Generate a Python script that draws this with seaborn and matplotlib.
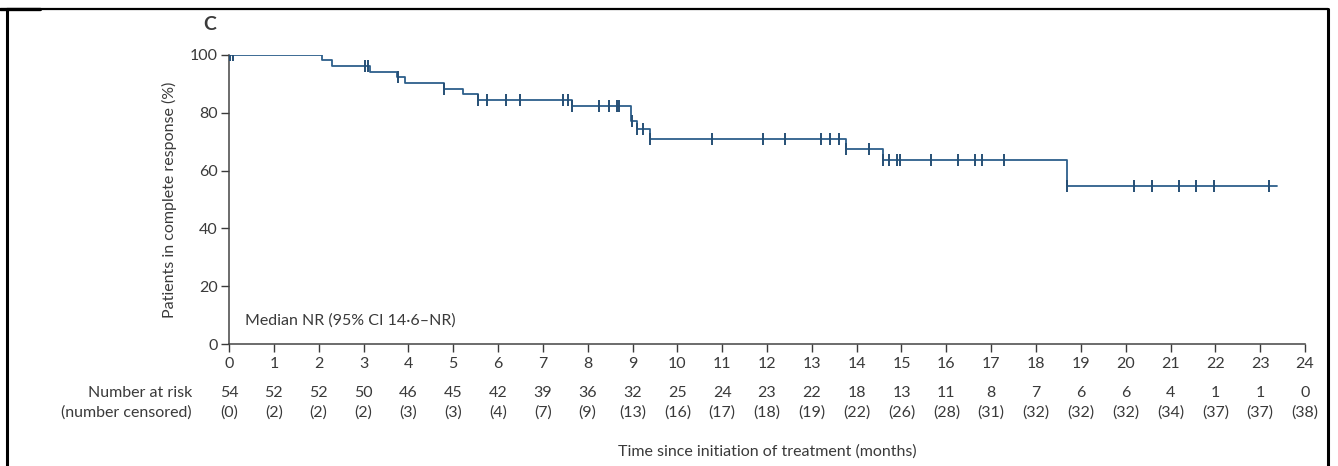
# Kaplan-Meier plot of complete response, panel C

import matplotlib.pyplot as plt
import matplotlib.lines as mlines
import numpy as np
import pandas as pd
import seaborn as sns

# step curve (time in months, % in complete response)
step_times = [0, 2.07, 2.29, 3.15, 3.74, 3.93, 4.80, 5.23, 5.56, 7.64, 8.96, 9.09, 9.38, 13.76, 14.58, 18.69, 23.38]
step_values = [100, 98.1, 96.2, 94.2, 92.3, 90.4, 88.4, 86.5, 84.6, 82.2, 77.1, 74.3, 71.0, 67.4, 63.8, 54.6, 54.6]

# censored observations
censor_times = [0.02, 0.09, 3.03, 3.10, 3.78, 4.80, 5.56, 5.75, 6.18, 6.48, 7.46, 7.56, 7.64,
                8.25, 8.48, 8.66, 8.71, 8.98, 9.09, 9.23, 9.38, 10.77, 11.92, 12.40, 13.20,
                13.40, 13.60, 13.76, 14.28, 14.58, 14.72, 14.91, 14.97, 15.66, 16.25, 16.63,
                16.80, 17.29, 18.69, 20.19, 20.58, 21.19, 21.57, 21.98, 23.20]

risk_months = list(range(0, 25))
at_risk = [54, 52, 52, 50, 46, 45, 42, 39, 36, 32, 25, 24, 23, 22, 18, 13, 11, 8, 7, 6, 6, 4, 1, 1, 0]
n_censored = [0, 2, 2, 2, 3, 3, 4, 7, 9, 13, 16, 17, 18, 19, 22, 26, 28, 31, 32, 32, 32, 34, 37, 37, 38]


def surv_at(t):
    idx = np.searchsorted(step_times, t, side="right") - 1
    return step_values[idx]


curve = pd.DataFrame({"time": step_times, "pct": step_values})
cens = pd.DataFrame({"time": censor_times, "pct": [surv_at(t) for t in censor_times]})

sns.set_style("ticks")
plt.rcParams["font.family"] = ["Lato", "DejaVu Sans"]
text_col = "#3a3a3a"
line_col = "#2d5f8b"
fs = 11.5

fig = plt.figure(figsize=(13.38, 4.66), dpi=100)
ax = fig.add_axes([229 / 1338, 1 - 344 / 466, (1305 - 229) / 1338, (344 - 55) / 466])

sns.lineplot(data=curve, x="time", y="pct", drawstyle="steps-post", color=line_col,
             linewidth=1.3, ax=ax, estimator=None, sort=False)
sns.scatterplot(data=cens, x="time", y="pct", marker="|", s=70, linewidth=1.4,
                color="#264f75", ax=ax, zorder=3)

ax.set_xlim(0, 24)
ax.set_ylim(0, 100)
ax.set_xticks(range(0, 25))
ax.set_yticks(range(0, 101, 20))
ax.set_xlabel("")
ax.set_ylabel("Patients in complete response (%)", fontsize=fs, color=text_col, labelpad=9)
ax.tick_params(axis="both", labelsize=fs, colors=text_col, length=6, width=1)
ax.tick_params(axis="x", pad=3)
ax.tick_params(axis="y", pad=2)
for side in ["top", "right"]:
    ax.spines[side].set_visible(False)
for side in ["left", "bottom"]:
    ax.spines[side].set_color("#444444")
    ax.spines[side].set_linewidth(1.1)

ax.text(0.35, 8, "Median NR (95% CI 14·6–NR)", fontsize=fs, color=text_col, va="center")
fig.text(210 / 1338, 1 - 25 / 466, "C", fontsize=14, fontweight="bold", color=text_col,
         ha="center", va="center")

# number at risk table
row1_y = 1 - 393 / 466
row2_y = 1 - 413 / 466
fig.text(192 / 1338, row1_y, "Number at risk", fontsize=fs, color=text_col, ha="right", va="center")
fig.text(192 / 1338, row2_y, "(number censored)", fontsize=fs, color=text_col, ha="right", va="center")
for m, n, c in zip(risk_months, at_risk, n_censored):
    x_fig = fig.transFigure.inverted().transform(ax.transData.transform((m, 0)))[0]
    fig.text(x_fig, row1_y, str(n), fontsize=fs, color=text_col, ha="center", va="center")
    fig.text(x_fig, row2_y, "({})".format(c), fontsize=fs, color=text_col, ha="center", va="center")

fig.text(767 / 1338, 1 - 452 / 466, "Time since initiation of treatment (months)", fontsize=fs,
         color=text_col, ha="center", va="center")

# frame around the panel
top_y = 1 - 8.5 / 466
fig.add_artist(mlines.Line2D([7 / 1338, 1328 / 1338], [top_y, top_y], color="black", lw=1.6,
                             transform=fig.transFigure))
fig.add_artist(mlines.Line2D([0, 40 / 1338], [top_y, top_y], color="black", lw=2.4,
                             transform=fig.transFigure))
fig.add_artist(mlines.Line2D([7 / 1338, 7 / 1338], [0, top_y], color="black", lw=2.2,
                             transform=fig.transFigure))
fig.add_artist(mlines.Line2D([1328 / 1338, 1328 / 1338], [0, top_y], color="black", lw=2.2,
                             transform=fig.transFigure))

fig.savefig("out.png", dpi=100)
